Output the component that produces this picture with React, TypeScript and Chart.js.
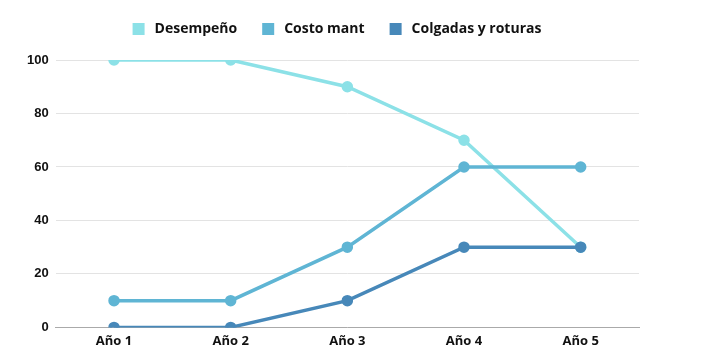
import React, { useEffect, useRef } from "react";
import { Chart, registerables } from "chart.js";

Chart.register(...registerables);

const categories = ["Año 1", "Año 2", "Año 3", "Año 4", "Año 5"];
const seriesNames = ["Desempeño", "Costo mant", "Colgadas y roturas"];
const desempeno = [100, 100, 90, 70, 30];
const costoMant = [10, 10, 30, 60, 60];
const colgadas = [0, 0, 10, 30, 30];
const yTicks = [0, 20, 40, 60, 80, 100];

const colors = ["#8ce1e7", "#5fb5d4", "#4788b9"];

const legendPlugin = {
  id: "topLegend",
  afterDraw(chart: any) {
    const ctx = chart.ctx;
    const font = "bold 14px 'Open Sans'";
    const box = 12;
    const gapText = 10;
    const gapItem = 25;
    ctx.save();
    ctx.font = font;
    const items = chart.data.datasets.map((d: any) => ({
      text: d.label,
      color: d.borderColor,
      w: ctx.measureText(d.label).width,
    }));
    const total =
      items.reduce((s: number, it: any) => s + box + gapText + it.w, 0) +
      gapItem * (items.length - 1);
    const cx = 329;
    let x = cx - total / 2;
    const cy = 21;
    ctx.textBaseline = "middle";
    ctx.textAlign = "left";
    for (const it of items) {
      ctx.fillStyle = it.color;
      ctx.fillRect(x, cy - box / 2, box, box);
      x += box + gapText;
      ctx.fillStyle = "#111";
      ctx.fillText(it.text, x, cy);
      x += it.w + gapItem;
    }
    ctx.restore();
  },
};

export default function App() {
  const ref = useRef<HTMLCanvasElement | null>(null);
  useEffect(() => {
    if (!ref.current) return;
    const mk = (label: string, data: number[], color: string, order: number) => ({
      label,
      data,
      order,
      borderColor: color,
      backgroundColor: color,
      pointBackgroundColor: color,
      pointBorderColor: color,
      borderWidth: 3.5,
      pointRadius: 4,
      tension: 0,
    });
    const chart = new Chart(ref.current, {
      type: "line",
      data: {
        labels: categories,
        datasets: [
          mk(seriesNames[0], desempeno, colors[0], 3),
          mk(seriesNames[1], costoMant, colors[1], 2),
          mk(seriesNames[2], colgadas, colors[2], 1),
        ],
      },
      options: {
        animation: false,
        responsive: true,
        maintainAspectRatio: false,
        layout: { padding: { left: 12, right: 58, top: 52, bottom: -4 } },
        plugins: {
          tooltip: { enabled: false },
          legend: { display: false },
        },
        scales: {
          x: {
            offset: true,
            grid: { display: false, drawTicks: false },
            border: { display: true, color: "#aaa", width: 1 },
            ticks: {
              color: "#111",
              padding: 6,
              font: { family: "'Open Sans'", weight: "bold", size: 13 },
            },
          },
          y: {
            min: 0,
            max: 100,
            afterBuildTicks: (axis: any) => {
              axis.ticks = yTicks.map((v) => ({ value: v }));
            },
            grid: { color: "#e3e3e3", drawTicks: false },
            border: { display: false },
            ticks: {
              color: "#111",
              padding: 7,
              font: { family: "'Liberation Sans'", weight: "bold", size: 13 },
            },
          },
        },
      },
      plugins: [legendPlugin],
    });
    return () => chart.destroy();
  }, []);
  return (
    <div style={{ width: 689, height: 343 }}>
      <canvas ref={ref} />
    </div>
  );
}
